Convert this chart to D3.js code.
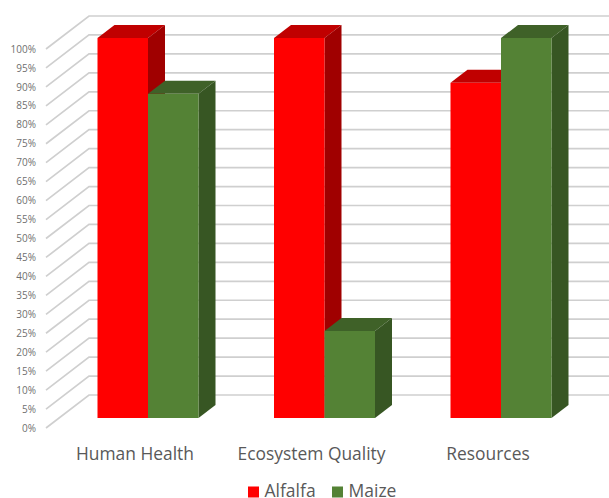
<!DOCTYPE html>
<html><head><meta charset="utf-8">
<script src="https://cdnjs.cloudflare.com/ajax/libs/d3/7.8.5/d3.min.js"></script>
<style>html,body{margin:0;padding:0;background:#fff}svg{display:block}</style>
</head><body><svg id="c" width="609" height="498"></svg>
<script>
const categories = ["Human Health", "Ecosystem Quality", "Resources"];
const seriesNames = ["Alfalfa", "Maize"];
const alfalfa = [100, 100, 88.2];
const maize = [85.3, 22.9, 100];
const ticks = d3.range(0, 101, 5);

const colors = {Alfalfa: {front: "#ff0000", top: "#c00000", side: "#a00000"},
                Maize: {front: "#548235", top: "#3f6128", side: "#375623"}};
const svg = d3.select("#c");
const font = "'Open Sans','Noto Sans',sans-serif";
const depthX = 17, depthY = 13;

const yBar = d3.scaleLinear().domain([0, 100]).range([418, 38]);
const yWallFront = d3.scaleLinear().domain([0, 100]).range([428, 49]);
const yWallBack = d3.scaleLinear().domain([0, 100]).range([395, 16]);
const x0 = d3.scalePoint().domain(categories).range([148, 501]);
const barW = 50.5;

// gridlines
const grid = svg.append("g").attr("fill", "none").attr("stroke", "#cfcfcf").attr("stroke-width", 1.7);
ticks.forEach(t => {
  grid.append("path").attr("d", d3.line()([[46, yWallFront(t)], [89, yWallBack(t)], [609, yWallBack(t)]]));
});

// tick labels
svg.append("g").selectAll("text").data(ticks).join("text")
  .attr("x", 36).attr("y", d => yWallFront(d))
  .attr("dy", "0.36em").attr("text-anchor", "end")
  .attr("font-family", font).attr("font-size", 10).attr("fill", "#6f6f6f")
  .text(d => d + "%");

// bars
function drawBar(g, xl, v, c) {
  const xr = xl + barW, yt = yBar(v), yb = yBar(0);
  g.append("polygon").attr("fill", c.top).attr("points",
    [[xl, yt], [xl + depthX, yt - depthY], [xr + depthX, yt - depthY], [xr, yt]].join(" "));
  g.append("polygon").attr("fill", c.side).attr("points",
    [[xr, yt], [xr + depthX, yt - depthY], [xr + depthX, yb - depthY], [xr, yb]].join(" "));
  g.append("rect").attr("x", xl).attr("y", yt).attr("width", barW).attr("height", yb - yt).attr("fill", c.front);
}
const bars = svg.append("g");
categories.forEach((cat, i) => {
  drawBar(bars, x0(cat) - barW, alfalfa[i], colors.Alfalfa);
  drawBar(bars, x0(cat), maize[i], colors.Maize);
});

// category labels
svg.append("g").selectAll("text").data(categories).join("text")
  .attr("x", d => x0(d) - 13).attr("y", 454)
  .attr("dy", "0.36em").attr("text-anchor", "middle")
  .attr("font-family", font).attr("font-size", 17.4).attr("fill", "#595959")
  .text(d => d);

// legend
const legendX = [248, 332];
const lg = svg.append("g");
seriesNames.forEach((n, i) => {
  lg.append("rect").attr("x", legendX[i]).attr("y", 486.5).attr("width", 11).attr("height", 11).attr("fill", colors[n].front);
  lg.append("text").attr("x", legendX[i] + 16.5).attr("y", 497)
    .attr("font-family", font).attr("font-size", 17.5).attr("fill", "#595959").text(n);
});
</script></body></html>
